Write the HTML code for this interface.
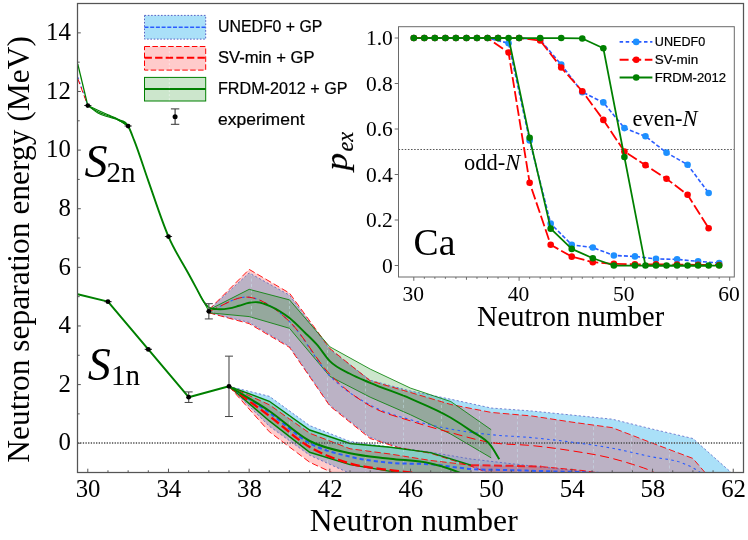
<!DOCTYPE html>
<html><head><meta charset="utf-8"><title>Neutron separation energy</title>
<style>html,body{margin:0;padding:0;background:#fff;}body{width:748px;height:540px;overflow:hidden;font-family:"Liberation Serif",serif;}svg{display:block;}</style>
</head><body>
<svg width="748" height="540" viewBox="0 0 748 540" style="will-change:transform">
<defs>
<clipPath id="cm"><rect x="77.5" y="3.5" width="666" height="469"/></clipPath>
<clipPath id="ci"><rect x="398.5" y="26.7" width="335.8" height="250.3"/></clipPath>
<clipPath id="cb"><polygon points="208.82,309.84 249.16,272.91 289.5,295.18 329.84,349.41 370.18,380.18 410.52,391.03 450.86,399.24 491.2,408.03 531.54,410.96 571.88,415.06 612.22,419.17 652.56,429.13 692.9,438.51 731.22,472.51 737.27,478.37 531.54,490.1 493.22,475.44 489.18,472.51 471.03,465.92 450.86,459.47 430.69,453.02 410.52,449.5 398.42,447.3 370.18,437.34 329.84,405.1 289.5,346.48 249.16,322.44 208.82,312.77"/><polygon points="208.82,309.84 249.16,269.39 289.5,293.13 329.84,348.53 370.18,380.77 410.52,392.49 450.86,404.51 491.2,412.42 531.54,415.94 571.88,422.1 612.22,427.67 652.56,443.2 692.9,458.44 705,472.51 713.07,484.23 531.54,490.1 491.2,475.44 487.17,472.51 471.03,466.21 450.86,459.76 430.69,453.31 410.52,449.79 398.42,447.6 370.18,438.51 329.84,405.98 289.5,347.36 249.16,323.62 208.82,312.77"/><polygon points="228.99,386.34 269.33,396.3 309.67,425.61 350.01,441.44 390.35,447.01 430.69,452.29 471.03,459.03 511.37,463.72 551.71,468.11 592.05,472.51 602.13,473.98 390.35,490.1 360.1,481.3 347.99,472.51 309.67,455.22 269.33,426.2 228.99,386.34"/><polygon points="228.99,386.34 269.33,404.8 309.67,433.23 350.01,448.77 390.35,454.04 430.69,460.49 471.03,465.18 511.37,465.77 541.62,466.65 581.97,470.46 602.13,473.39 390.35,490.1 350.01,484.23 331.86,472.51 309.67,462.25 269.33,431.77 228.99,386.34"/></clipPath>
</defs>
<rect x="0" y="0" width="748" height="540" fill="#fff"/>
<g clip-path="url(#cm)">
<polygon points="208.82,309.84 249.16,272.91 289.5,295.18 329.84,349.41 370.18,380.18 410.52,391.03 450.86,399.24 491.2,408.03 531.54,410.96 571.88,415.06 612.22,419.17 652.56,429.13 692.9,438.51 731.22,472.51 737.27,478.37 531.54,490.1 493.22,475.44 489.18,472.51 471.03,465.92 450.86,459.47 430.69,453.02 410.52,449.5 398.42,447.3 370.18,437.34 329.84,405.1 289.5,346.48 249.16,322.44 208.82,312.77" fill="rgb(130,210,245)" fill-opacity="0.68"/>
<polygon points="228.99,386.34 269.33,396.3 309.67,425.61 350.01,441.44 390.35,447.01 430.69,452.29 471.03,459.03 511.37,463.72 551.71,468.11 592.05,472.51 602.13,473.98 390.35,490.1 360.1,481.3 347.99,472.51 309.67,455.22 269.33,426.2 228.99,386.34" fill="rgb(130,210,245)" fill-opacity="0.68"/>
<polygon points="208.82,309.84 249.16,269.39 289.5,293.13 329.84,348.53 370.18,380.77 410.52,392.49 450.86,404.51 491.2,412.42 531.54,415.94 571.88,422.1 612.22,427.67 652.56,443.2 692.9,458.44 705,472.51 713.07,484.23 531.54,490.1 491.2,475.44 487.17,472.51 471.03,466.21 450.86,459.76 430.69,453.31 410.52,449.79 398.42,447.6 370.18,438.51 329.84,405.98 289.5,347.36 249.16,323.62 208.82,312.77" fill="rgb(255,0,0)" fill-opacity="0.205"/>
<polygon points="228.99,386.34 269.33,404.8 309.67,433.23 350.01,448.77 390.35,454.04 430.69,460.49 471.03,465.18 511.37,465.77 541.62,466.65 581.97,470.46 602.13,473.39 390.35,490.1 350.01,484.23 331.86,472.51 309.67,462.25 269.33,431.77 228.99,386.34" fill="rgb(255,0,0)" fill-opacity="0.205"/>
<polygon points="208.82,309.84 249.16,289.32 289.5,299.87 329.84,346.77 370.18,369.05 410.52,388.1 450.86,401.58 491.2,429.72 491.2,457.85 450.86,434.11 410.52,414.77 370.18,397.18 329.84,376.37 289.5,328.3 249.16,316.58 208.82,312.77" fill="rgb(0,128,0)" fill-opacity="0.2"/>
<polygon points="228.99,386.34 269.33,401.29 309.67,430.01 350.01,443.49 390.35,447.3 430.69,452.58 471.03,465.18 471.03,481.3 410.52,473.39 390.35,471.34 350.01,464.6 309.67,452.29 269.33,420.92 228.99,386.34" fill="rgb(0,128,0)" fill-opacity="0.2"/>
<g clip-path="url(#cb)"><path d="M213.5 3.5 V472.5 M251.5 3.5 V472.5 M289.5 3.5 V472.5 M327.5 3.5 V472.5 M365.5 3.5 V472.5 M403.5 3.5 V472.5 M441.5 3.5 V472.5 M479.5 3.5 V472.5 M517.5 3.5 V472.5 M555.5 3.5 V472.5 M593.5 3.5 V472.5 M631.5 3.5 V472.5 M669.5 3.5 V472.5" stroke="#cdeef8" stroke-opacity="0.42" stroke-width="1.1" stroke-dasharray="3 2.5" fill="none"/></g>
<path d="M208.82 309.84 L249.16 272.91 L289.5 295.18 L329.84 349.41 L370.18 380.18 L410.52 391.03 L450.86 399.24 L491.2 408.03 L531.54 410.96 L571.88 415.06 L612.22 419.17 L652.56 429.13 L692.9 438.51 L731.22 472.51 L737.27 478.37" stroke="#5560c4" stroke-width="0.9" fill="none" stroke-opacity="0.85" stroke-dasharray="2.2 2.2"/>
<path d="M208.82 312.77 L249.16 322.44 L289.5 346.48 L329.84 405.1 L370.18 437.34 L398.42 447.3 L410.52 449.5 L430.69 453.02 L450.86 459.47 L471.03 465.92 L489.18 472.51 L493.22 475.44 L531.54 490.1" stroke="#5560c4" stroke-width="0.9" fill="none" stroke-opacity="0.85" stroke-dasharray="2.2 2.2"/>
<path d="M228.99 386.34 L269.33 396.3 L309.67 425.61 L350.01 441.44 L390.35 447.01 L430.69 452.29 L471.03 459.03 L511.37 463.72 L551.71 468.11 L592.05 472.51 L602.13 473.98" stroke="#5560c4" stroke-width="0.9" fill="none" stroke-opacity="0.85" stroke-dasharray="2.2 2.2"/>
<path d="M228.99 386.34 L269.33 426.2 L309.67 455.22 L347.99 472.51 L360.1 481.3 L390.35 490.1" stroke="#5560c4" stroke-width="0.9" fill="none" stroke-opacity="0.85" stroke-dasharray="2.2 2.2"/>
<path d="M208.82 309.84 L249.16 269.39 L289.5 293.13 L329.84 348.53 L370.18 380.77 L410.52 392.49 L450.86 404.51 L491.2 412.42 L531.54 415.94 L571.88 422.1 L612.22 427.67 L652.56 443.2 L692.9 458.44 L705 472.51 L713.07 484.23" stroke="#ff0000" stroke-width="0.9" fill="none" stroke-dasharray="6.5 3"/>
<path d="M208.82 312.77 L249.16 323.62 L289.5 347.36 L329.84 405.98 L370.18 438.51 L398.42 447.6 L410.52 449.79 L430.69 453.31 L450.86 459.76 L471.03 466.21 L487.17 472.51 L491.2 475.44 L531.54 490.1" stroke="#ff0000" stroke-width="0.9" fill="none" stroke-dasharray="6.5 3"/>
<path d="M228.99 386.34 L269.33 404.8 L309.67 433.23 L350.01 448.77 L390.35 454.04 L430.69 460.49 L471.03 465.18" stroke="#ff0000" stroke-width="0.9" fill="none" stroke-dasharray="6.5 3"/>
<path d="M228.99 386.34 L269.33 431.77 L309.67 462.25 L331.86 472.51 L350.01 484.23 L390.35 490.1" stroke="#ff0000" stroke-width="0.9" fill="none" stroke-dasharray="6.5 3"/>
<path d="M208.82 309.84 L249.16 289.32 L289.5 299.87 L329.84 346.77 L370.18 369.05 L410.52 388.1 L450.86 401.58 L491.2 429.72" stroke="#008000" stroke-width="0.9" fill="none" stroke-opacity="0.9"/>
<path d="M208.82 312.77 L249.16 316.58 L289.5 328.3 L329.84 376.37 L370.18 397.18 L410.52 414.77 L450.86 434.11 L491.2 457.85" stroke="#008000" stroke-width="0.9" fill="none" stroke-opacity="0.9"/>
<path d="M228.99 386.34 L269.33 401.29 L309.67 430.01 L350.01 443.49 L390.35 447.3 L430.69 452.58 L471.03 465.18" stroke="#008000" stroke-width="1.4" fill="none"/>
<path d="M228.99 386.34 L269.33 420.92 L309.67 452.29 L350.01 464.6 L390.35 471.34 L410.52 473.39 L471.03 481.3" stroke="#008000" stroke-width="1.4" fill="none"/>
<line x1="77.5" y1="443.1" x2="743.5" y2="443.1" stroke="#4a4a4a" stroke-width="1.5" stroke-dasharray="1.3 1.35"/>
<path d="M208.82 311.31 C222.27 306.62 235.71 295.53 249.16 297.24 C262.61 298.95 276.05 308.47 289.5 321.56 C302.95 334.66 316.39 361.86 329.84 375.79 C343.29 389.71 356.73 397.77 370.18 405.1 C383.63 412.42 397.07 415.75 410.52 419.75 C423.97 423.76 437.41 426.64 450.86 429.13 C464.31 431.62 477.75 433.28 491.2 434.7 C504.65 436.12 518.09 436.39 531.54 437.63 C544.99 438.88 558.43 440.42 571.88 442.17 C585.33 443.93 598.77 445.72 612.22 448.18 C625.67 450.65 639.11 454.21 652.56 456.98 C661.97 458.91 671.39 459.12 680.8 462.54 C684.83 464.01 688.87 465.53 692.9 467.82 C695.59 469.34 698.28 470.82 700.97 473.1 C702.31 474.24 703.66 475.64 705 476.91" stroke="#2a5cff" stroke-width="1.1" fill="none" stroke-dasharray="2.6 3.4"/>
<path d="M208.82 311.31 C222.27 306.62 235.71 295.53 249.16 297.24 C262.61 298.95 276.05 308.72 289.5 321.56 C302.95 334.41 316.39 360.25 329.84 374.32 C343.29 388.39 356.73 398.21 370.18 405.98 C383.63 413.74 397.07 416.48 410.52 420.92 C423.97 425.37 437.41 429.03 450.86 432.65 C464.31 436.26 477.75 440.46 491.2 442.61 C504.65 444.76 518.09 444.18 531.54 445.54 C544.99 446.91 558.43 448.67 571.88 450.82 C585.33 452.97 598.77 454.99 612.22 458.44 C618.94 460.17 625.67 462.1 632.39 464.3 C639.11 466.5 645.84 468.31 652.56 471.63 C654.58 472.63 656.59 473.78 658.61 474.85" stroke="#ff0000" stroke-width="1" fill="none" stroke-dasharray="9 4.5"/>
<path d="M228.99 386.34 C242.44 395.13 255.88 403.24 269.33 412.72 C282.78 422.19 296.22 435.87 309.67 443.2 C323.12 450.53 336.56 453.41 350.01 456.68 C363.46 459.96 376.9 461.57 390.35 462.84 C403.8 464.11 417.24 463.28 430.69 464.3 C444.14 465.33 457.58 468.02 471.03 468.99 C484.48 469.97 497.92 469.77 511.37 470.17 C524.82 470.56 538.26 470.95 551.71 471.34 C565.16 471.73 578.6 471.81 592.05 472.51 C595.41 472.69 598.77 472.9 602.13 473.1" stroke="#2a5cff" stroke-width="2.0" fill="none" stroke-dasharray="4.2 3"/>
<path d="M471.03 465.18 L511.37 465.77 L541.62 466.65" stroke="#ff0000" stroke-width="2.0" fill="none" stroke-dasharray="8 3.5" stroke-opacity="0.8"/>
<path d="M541.62 466.65 L581.97 470.46 L602.13 473.39" stroke="#ff0000" stroke-width="0.9" fill="none" stroke-dasharray="6.5 3"/>
<path d="M228.99 386.34 C242.44 396.21 255.88 405.83 269.33 415.94 C282.78 426.05 296.22 439.1 309.67 447.01 C323.12 454.92 336.56 459.56 350.01 463.42 C363.46 467.28 376.9 468.37 390.35 470.17 C397.07 471.06 403.8 471.6 410.52 472.51 C413.88 472.97 417.24 473.49 420.61 473.98" stroke="#ff0000" stroke-width="2.3" fill="none" stroke-dasharray="9.5 3.7"/>
<path d="M118.06 119.62 C121.42 121.77 124.78 120.27 128.14 126.07 C130.16 129.54 132.17 135.34 134.19 140.43 C138.9 152.29 143.6 167.59 148.31 180.88 C155.03 199.85 161.76 221.05 168.48 236.56 C175.2 252.07 181.93 261.48 188.65 273.93 C191.34 278.92 194.03 283.98 196.72 288.88 C199.14 293.3 201.56 298.52 203.98 301.93 C205.59 304.2 207.21 306.21 208.82 307.49 C211.51 309.63 214.2 308.85 216.89 309.11 C220.92 309.49 224.96 309.06 228.99 308.37 C232.35 307.8 235.71 306.66 239.07 305.74 C242.44 304.81 245.8 303.38 249.16 302.81 C251.85 302.35 254.54 302.03 257.23 302.22 C261.46 302.52 265.7 304.23 269.94 306.03 C276.46 308.79 282.98 312.84 289.5 318.05 C294.68 322.18 299.85 327.64 305.03 332.7 C308.93 336.51 312.83 340.02 316.73 344.43 C321.1 349.37 325.47 356.68 329.84 361.13 C336.56 367.98 343.29 370.12 350.01 373.74 C356.73 377.35 363.46 379.92 370.18 382.82 C383.63 388.62 397.07 392.84 410.52 398.65 C423.97 404.46 437.41 409.72 450.86 417.7 C457.58 421.69 464.31 426.15 471.03 430.89 C477.75 435.63 484.48 436.83 491.2 446.13 C493.89 449.85 496.58 454.92 499.27 459.32" stroke="#008000" stroke-width="1.9" fill="none"/>
<path d="M87.8 105.55 C91.16 107.6 94.52 109.99 97.88 111.7 C101.25 113.41 104.61 114.49 107.97 115.81 C111.33 117.13 114.69 117.91 118.06 119.62 C121.42 121.33 124.78 123.92 128.14 126.07" stroke="#008000" stroke-width="1.2" fill="none"/>
<path d="M228.99 386.34 C242.44 394.55 255.88 401.85 269.33 410.96 C282.78 420.07 296.22 433.97 309.67 441 C323.12 448.04 336.56 450.21 350.01 453.17 C363.46 456.12 376.9 457.02 390.35 458.73 C403.8 460.44 417.24 460.24 430.69 463.42 C440.1 465.66 449.52 468.22 458.93 472.51 C460.95 473.43 462.96 474.46 464.98 475.44" stroke="#008000" stroke-width="2.0" fill="none"/>
<path d="M77.72 76.82 L87.8 105.55" stroke="#2a5cff" stroke-width="1" fill="none" stroke-dasharray="2.5 2.5"/>
<path d="M77.72 78.58 L87.8 105.55" stroke="#ff0000" stroke-width="1" fill="none" stroke-dasharray="6 3"/>
<path d="M77.72 63.93 L87.8 105.55" stroke="#008000" stroke-width="1.3" fill="none"/>
<path d="M87.8 105.55 C91.16 108.04 94.52 111.14 97.88 113.02 C101.25 114.9 104.61 115.66 107.97 116.83 C111.33 118.01 114.69 118.52 118.06 120.06 C121.42 121.6 124.78 124.06 128.14 126.07" stroke="#008000" stroke-width="1.1" fill="none"/>
<path d="M87.8 105.55 C91.16 107.11 94.52 108.7 97.88 110.24 C101.25 111.78 104.61 113.29 107.97 114.78 C111.33 116.27 114.69 117.3 118.06 119.18 C121.42 121.06 124.78 123.77 128.14 126.07" stroke="#008000" stroke-width="1.1" fill="none"/>
<path d="M197.73 290.79 L208.82 311.31" stroke="#008000" stroke-width="1" fill="none"/>
<path d="M77.72 294.31 L107.97 301.63 L148.31 349.41 L188.65 397.18 L228.99 386.34" stroke="#008000" stroke-width="2.0" fill="none" stroke-linejoin="round"/>
<line x1="84.2" y1="105.55" x2="91.4" y2="105.55" stroke="#333" stroke-width="1.1"/>
<circle cx="87.8" cy="105.55" r="2.4" fill="#000"/>
<line x1="124.54" y1="126.07" x2="131.74" y2="126.07" stroke="#333" stroke-width="1.1"/>
<circle cx="128.14" cy="126.07" r="2.4" fill="#000"/>
<line x1="164.88" y1="236.56" x2="172.08" y2="236.56" stroke="#333" stroke-width="1.1"/>
<circle cx="168.48" cy="236.56" r="2.4" fill="#000"/>
<line x1="208.82" y1="303.68" x2="208.82" y2="318.93" stroke="#666" stroke-width="1.3"/>
<line x1="204.82" y1="303.68" x2="212.82" y2="303.68" stroke="#444" stroke-width="1"/>
<line x1="204.82" y1="318.93" x2="212.82" y2="318.93" stroke="#444" stroke-width="1"/>
<circle cx="208.82" cy="311.31" r="2.4" fill="#000"/>
<line x1="104.37" y1="301.63" x2="111.57" y2="301.63" stroke="#333" stroke-width="1.1"/>
<circle cx="107.97" cy="301.63" r="2.4" fill="#000"/>
<line x1="144.71" y1="349.41" x2="151.91" y2="349.41" stroke="#333" stroke-width="1.1"/>
<circle cx="148.31" cy="349.41" r="2.4" fill="#000"/>
<line x1="188.65" y1="391.91" x2="188.65" y2="402.46" stroke="#666" stroke-width="1.3"/>
<line x1="184.65" y1="391.91" x2="192.65" y2="391.91" stroke="#444" stroke-width="1"/>
<line x1="184.65" y1="402.46" x2="192.65" y2="402.46" stroke="#444" stroke-width="1"/>
<circle cx="188.65" cy="397.18" r="2.4" fill="#000"/>
<line x1="228.99" y1="356.15" x2="228.99" y2="416.53" stroke="#666" stroke-width="1.3"/>
<line x1="224.99" y1="356.15" x2="232.99" y2="356.15" stroke="#444" stroke-width="1"/>
<line x1="224.99" y1="416.53" x2="232.99" y2="416.53" stroke="#444" stroke-width="1"/>
<circle cx="228.99" cy="386.34" r="2.4" fill="#000"/>
</g>
<rect x="77.5" y="3.5" width="666" height="469" fill="none" stroke="#555555" stroke-width="1.25"/>
<path d="M87.8 472.5 v-3.8 M107.97 472.5 v-2.2 M128.14 472.5 v-2.2 M148.31 472.5 v-2.2 M168.48 472.5 v-3.8 M188.65 472.5 v-2.2 M208.82 472.5 v-2.2 M228.99 472.5 v-2.2 M249.16 472.5 v-3.8 M269.33 472.5 v-2.2 M289.5 472.5 v-2.2 M309.67 472.5 v-2.2 M329.84 472.5 v-3.8 M350.01 472.5 v-2.2 M370.18 472.5 v-2.2 M390.35 472.5 v-2.2 M410.52 472.5 v-3.8 M430.69 472.5 v-2.2 M450.86 472.5 v-2.2 M471.03 472.5 v-2.2 M491.2 472.5 v-3.8 M511.37 472.5 v-2.2 M531.54 472.5 v-2.2 M551.71 472.5 v-2.2 M571.88 472.5 v-3.8 M592.05 472.5 v-2.2 M612.22 472.5 v-2.2 M632.39 472.5 v-2.2 M652.56 472.5 v-3.8 M672.73 472.5 v-2.2 M692.9 472.5 v-2.2 M713.07 472.5 v-2.2 M733.24 472.5 v-3.8 M77.5 472.51 h2.2 M77.5 443.2 h3.3 M77.5 413.89 h2.2 M77.5 384.58 h3.3 M77.5 355.27 h2.2 M77.5 325.96 h3.3 M77.5 296.65 h2.2 M77.5 267.34 h3.3 M77.5 238.03 h2.2 M77.5 208.72 h3.3 M77.5 179.41 h2.2 M77.5 150.1 h3.3 M77.5 120.79 h2.2 M77.5 91.48 h3.3 M77.5 62.17 h2.2 M77.5 32.86 h3.3" stroke="#555555" stroke-width="1" fill="none"/>
<g font-family="'Liberation Serif', serif" font-size="24.8" fill="#000">
<text x="88.1" y="497.4" text-anchor="middle">30</text>
<text x="168.78" y="497.4" text-anchor="middle">34</text>
<text x="249.46" y="497.4" text-anchor="middle">38</text>
<text x="330.14" y="497.4" text-anchor="middle">42</text>
<text x="410.82" y="497.4" text-anchor="middle">46</text>
<text x="491.5" y="497.4" text-anchor="middle">50</text>
<text x="572.18" y="497.4" text-anchor="middle">54</text>
<text x="652.86" y="497.4" text-anchor="middle">58</text>
<text x="733.54" y="497.4" text-anchor="middle">62</text>
<text x="70.8" y="450.4" text-anchor="end">0</text>
<text x="70.8" y="391.78" text-anchor="end">2</text>
<text x="70.8" y="333.16" text-anchor="end">4</text>
<text x="70.8" y="274.54" text-anchor="end">6</text>
<text x="70.8" y="215.92" text-anchor="end">8</text>
<text x="70.8" y="157.3" text-anchor="end">10</text>
<text x="70.8" y="98.68" text-anchor="end">12</text>
<text x="70.8" y="40.06" text-anchor="end">14</text>
</g>
<text x="413.7" y="531.2" text-anchor="middle" font-family="'Liberation Serif', serif" font-size="31.6" fill="#000">Neutron number</text>
<text transform="translate(29.0 249.4) rotate(-90)" text-anchor="middle" font-family="'Liberation Serif', serif" font-size="31.4" fill="#000" textLength="426.6" lengthAdjust="spacingAndGlyphs">Neutron separation energy (MeV)</text>
<text x="84.4" y="177.0" font-family="'Liberation Serif', serif" font-style="italic" font-size="46" fill="#000">S</text>
<text x="106.4" y="181.8" font-family="'Liberation Serif', serif" font-size="29" fill="#000">2n</text>
<text x="87.7" y="379.9" font-family="'Liberation Serif', serif" font-style="italic" font-size="46" fill="#000">S</text>
<text x="110.9" y="384.8" font-family="'Liberation Serif', serif" font-size="29" fill="#000">1n</text>
<rect x="144.5" y="15.4" width="61.2" height="23.7" fill="rgb(130,210,245)" fill-opacity="0.68" stroke="#5560c4" stroke-width="1" stroke-dasharray="1.6 1.7"/>
<line x1="144.5" y1="27.3" x2="205.7" y2="27.3" stroke="#2a5cff" stroke-width="1.5" stroke-dasharray="4 1.7"/>
<rect x="144.5" y="46.5" width="61.2" height="23.6" fill="rgb(255,0,0)" fill-opacity="0.205" stroke="#ff0000" stroke-width="1" stroke-dasharray="5.5 2.4"/>
<line x1="144.5" y1="57.8" x2="205.7" y2="57.8" stroke="#ff0000" stroke-width="2" stroke-dasharray="7.4 3.2"/>
<rect x="144.5" y="77.4" width="61.2" height="23.6" fill="rgb(0,128,0)" fill-opacity="0.2" stroke="#008000" stroke-width="1"/>
<line x1="144.5" y1="89.0" x2="205.7" y2="89.0" stroke="#008000" stroke-width="2" />
<path d="M169.3 47.2 V69.6 M169.3 78.2 V100.4" stroke="#fff" stroke-opacity="0.45" stroke-width="1" stroke-dasharray="2 2" fill="none"/>
<line x1="175.1" y1="108.9" x2="175.1" y2="124.3" stroke="#444" stroke-width="1.2"/>
<line x1="170.9" y1="108.9" x2="179.3" y2="108.9" stroke="#333" stroke-width="1"/>
<line x1="170.9" y1="124.3" x2="179.3" y2="124.3" stroke="#333" stroke-width="1"/>
<circle cx="175.1" cy="116.7" r="2.5" fill="#000"/>
<g font-family="'Liberation Sans', sans-serif" font-size="15.6" fill="#000" stroke="#000" stroke-width="0.22">
<text x="218" y="32.3" textLength="104.4" lengthAdjust="spacingAndGlyphs">UNEDF0 + GP</text>
<text x="218" y="63.2" textLength="96.5" lengthAdjust="spacingAndGlyphs">SV-min + GP</text>
<text x="218" y="94.1" textLength="129.5" lengthAdjust="spacingAndGlyphs">FRDM-2012 + GP</text>
<text x="218" y="125" textLength="86.5" lengthAdjust="spacingAndGlyphs">experiment</text>
</g>
<rect x="398.5" y="26.7" width="335.8" height="250.3" fill="#fff"/>
<g clip-path="url(#ci)">
<line x1="398.5" y1="149.5" x2="734.3" y2="149.5" stroke="#555" stroke-width="1.2" stroke-dasharray="1.55 1.58"/>
</g>
<path d="M413.8 38 L434.86 38 L455.92 38 L476.98 38 L498.04 38 L519.1 38 L540.16 39.82 L561.22 64.62 L582.28 92.15 L603.34 102.38 L624.4 128.09 L645.46 136.28 L666.52 152.66 L687.58 164.72 L708.64 192.93" stroke="#2a5cff" stroke-width="1.6" fill="none" stroke-dasharray="4 2.1" stroke-linejoin="round"/>
<circle cx="413.8" cy="38" r="3.3" fill="#1e90ff"/>
<circle cx="434.86" cy="38" r="3.3" fill="#1e90ff"/>
<circle cx="455.92" cy="38" r="3.3" fill="#1e90ff"/>
<circle cx="476.98" cy="38" r="3.3" fill="#1e90ff"/>
<circle cx="498.04" cy="38" r="3.3" fill="#1e90ff"/>
<circle cx="519.1" cy="38" r="3.3" fill="#1e90ff"/>
<circle cx="540.16" cy="39.82" r="3.3" fill="#1e90ff"/>
<circle cx="561.22" cy="64.62" r="3.3" fill="#1e90ff"/>
<circle cx="582.28" cy="92.15" r="3.3" fill="#1e90ff"/>
<circle cx="603.34" cy="102.38" r="3.3" fill="#1e90ff"/>
<circle cx="624.4" cy="128.09" r="3.3" fill="#1e90ff"/>
<circle cx="645.46" cy="136.28" r="3.3" fill="#1e90ff"/>
<circle cx="666.52" cy="152.66" r="3.3" fill="#1e90ff"/>
<circle cx="687.58" cy="164.72" r="3.3" fill="#1e90ff"/>
<circle cx="708.64" cy="192.93" r="3.3" fill="#1e90ff"/>
<path d="M424.33 38 L445.39 38 L466.45 38 L487.51 38 L508.57 43.23 L529.63 140.38 L550.69 223.64 L571.75 244.8 L592.81 247.53 L613.87 255.49 L634.93 256.4 L655.99 258.9 L677.05 259.36 L698.11 261.4 L719.17 263" stroke="#2a5cff" stroke-width="1.6" fill="none" stroke-dasharray="4 2.1" stroke-linejoin="round"/>
<circle cx="424.33" cy="38" r="3.3" fill="#1e90ff"/>
<circle cx="445.39" cy="38" r="3.3" fill="#1e90ff"/>
<circle cx="466.45" cy="38" r="3.3" fill="#1e90ff"/>
<circle cx="487.51" cy="38" r="3.3" fill="#1e90ff"/>
<circle cx="508.57" cy="43.23" r="3.3" fill="#1e90ff"/>
<circle cx="529.63" cy="140.38" r="3.3" fill="#1e90ff"/>
<circle cx="550.69" cy="223.64" r="3.3" fill="#1e90ff"/>
<circle cx="571.75" cy="244.8" r="3.3" fill="#1e90ff"/>
<circle cx="592.81" cy="247.53" r="3.3" fill="#1e90ff"/>
<circle cx="613.87" cy="255.49" r="3.3" fill="#1e90ff"/>
<circle cx="634.93" cy="256.4" r="3.3" fill="#1e90ff"/>
<circle cx="655.99" cy="258.9" r="3.3" fill="#1e90ff"/>
<circle cx="677.05" cy="259.36" r="3.3" fill="#1e90ff"/>
<circle cx="698.11" cy="261.4" r="3.3" fill="#1e90ff"/>
<circle cx="719.17" cy="263" r="3.3" fill="#1e90ff"/>
<path d="M413.8 38 L434.86 38 L455.92 38 L476.98 38 L498.04 38 L519.1 38 L540.16 40.5 L561.22 67.57 L582.28 91.23 L603.34 119.9 L624.4 151.52 L645.46 165.17 L666.52 178.82 L687.58 194.75 L708.64 228.19" stroke="#ff0000" stroke-width="1.8" fill="none" stroke-dasharray="11 3.2" stroke-linejoin="round"/>
<circle cx="413.8" cy="38" r="3.3" fill="#ff0000"/>
<circle cx="434.86" cy="38" r="3.3" fill="#ff0000"/>
<circle cx="455.92" cy="38" r="3.3" fill="#ff0000"/>
<circle cx="476.98" cy="38" r="3.3" fill="#ff0000"/>
<circle cx="498.04" cy="38" r="3.3" fill="#ff0000"/>
<circle cx="519.1" cy="38" r="3.3" fill="#ff0000"/>
<circle cx="540.16" cy="40.5" r="3.3" fill="#ff0000"/>
<circle cx="561.22" cy="67.57" r="3.3" fill="#ff0000"/>
<circle cx="582.28" cy="91.23" r="3.3" fill="#ff0000"/>
<circle cx="603.34" cy="119.9" r="3.3" fill="#ff0000"/>
<circle cx="624.4" cy="151.52" r="3.3" fill="#ff0000"/>
<circle cx="645.46" cy="165.17" r="3.3" fill="#ff0000"/>
<circle cx="666.52" cy="178.82" r="3.3" fill="#ff0000"/>
<circle cx="687.58" cy="194.75" r="3.3" fill="#ff0000"/>
<circle cx="708.64" cy="228.19" r="3.3" fill="#ff0000"/>
<path d="M424.33 38 L445.39 38 L466.45 38 L487.51 38 L508.57 52.56 L529.63 182.69 L550.69 244.8 L571.75 256.63 L592.81 262.2 L613.87 263.91 L634.93 264.36 L655.99 264.36 L677.05 264.59 L698.11 264.82 L719.17 265.05" stroke="#ff0000" stroke-width="1.8" fill="none" stroke-dasharray="11 3.2" stroke-linejoin="round"/>
<circle cx="424.33" cy="38" r="3.3" fill="#ff0000"/>
<circle cx="445.39" cy="38" r="3.3" fill="#ff0000"/>
<circle cx="466.45" cy="38" r="3.3" fill="#ff0000"/>
<circle cx="487.51" cy="38" r="3.3" fill="#ff0000"/>
<circle cx="508.57" cy="52.56" r="3.3" fill="#ff0000"/>
<circle cx="529.63" cy="182.69" r="3.3" fill="#ff0000"/>
<circle cx="550.69" cy="244.8" r="3.3" fill="#ff0000"/>
<circle cx="571.75" cy="256.63" r="3.3" fill="#ff0000"/>
<circle cx="592.81" cy="262.2" r="3.3" fill="#ff0000"/>
<circle cx="613.87" cy="263.91" r="3.3" fill="#ff0000"/>
<circle cx="634.93" cy="264.36" r="3.3" fill="#ff0000"/>
<circle cx="655.99" cy="264.36" r="3.3" fill="#ff0000"/>
<circle cx="677.05" cy="264.59" r="3.3" fill="#ff0000"/>
<circle cx="698.11" cy="264.82" r="3.3" fill="#ff0000"/>
<circle cx="719.17" cy="265.05" r="3.3" fill="#ff0000"/>
<path d="M413.8 38 L434.86 38 L455.92 38 L476.98 38 L498.04 38 L519.1 38 L540.16 38 L561.22 38 L582.28 38.46 L603.34 48.24 L624.4 156.98 L645.46 265.5 L666.52 265.5 L687.58 265.5 L708.64 265.5" stroke="#008000" stroke-width="1.75" fill="none" stroke-linejoin="round"/>
<circle cx="413.8" cy="38" r="3.3" fill="#008000"/>
<circle cx="434.86" cy="38" r="3.3" fill="#008000"/>
<circle cx="455.92" cy="38" r="3.3" fill="#008000"/>
<circle cx="476.98" cy="38" r="3.3" fill="#008000"/>
<circle cx="498.04" cy="38" r="3.3" fill="#008000"/>
<circle cx="519.1" cy="38" r="3.3" fill="#008000"/>
<circle cx="540.16" cy="38" r="3.3" fill="#008000"/>
<circle cx="561.22" cy="38" r="3.3" fill="#008000"/>
<circle cx="582.28" cy="38.46" r="3.3" fill="#008000"/>
<circle cx="603.34" cy="48.24" r="3.3" fill="#008000"/>
<circle cx="624.4" cy="156.98" r="3.3" fill="#008000"/>
<circle cx="645.46" cy="265.5" r="3.3" fill="#008000"/>
<circle cx="666.52" cy="265.5" r="3.3" fill="#008000"/>
<circle cx="687.58" cy="265.5" r="3.3" fill="#008000"/>
<circle cx="708.64" cy="265.5" r="3.3" fill="#008000"/>
<path d="M424.33 38 L445.39 38 L466.45 38 L487.51 38 L508.57 38 L529.63 137.87 L550.69 228.64 L571.75 248.89 L592.81 258.22 L613.87 265.5 L634.93 265.5 L655.99 265.5 L677.05 265.5 L698.11 265.5 L719.17 265.5" stroke="#008000" stroke-width="1.75" fill="none" stroke-linejoin="round"/>
<circle cx="424.33" cy="38" r="3.3" fill="#008000"/>
<circle cx="445.39" cy="38" r="3.3" fill="#008000"/>
<circle cx="466.45" cy="38" r="3.3" fill="#008000"/>
<circle cx="487.51" cy="38" r="3.3" fill="#008000"/>
<circle cx="508.57" cy="38" r="3.3" fill="#008000"/>
<circle cx="529.63" cy="137.87" r="3.3" fill="#008000"/>
<circle cx="550.69" cy="228.64" r="3.3" fill="#008000"/>
<circle cx="571.75" cy="248.89" r="3.3" fill="#008000"/>
<circle cx="592.81" cy="258.22" r="3.3" fill="#008000"/>
<circle cx="613.87" cy="265.5" r="3.3" fill="#008000"/>
<circle cx="634.93" cy="265.5" r="3.3" fill="#008000"/>
<circle cx="655.99" cy="265.5" r="3.3" fill="#008000"/>
<circle cx="677.05" cy="265.5" r="3.3" fill="#008000"/>
<circle cx="698.11" cy="265.5" r="3.3" fill="#008000"/>
<circle cx="719.17" cy="265.5" r="3.3" fill="#008000"/>
<rect x="398.5" y="26.7" width="335.8" height="250.3" fill="none" stroke="#6a6a6a" stroke-width="1"/>
<path d="M413.8 277 v3.8 M424.33 277 v1.8 M434.86 277 v1.8 M445.39 277 v1.8 M455.92 277 v1.8 M466.45 277 v2.8 M476.98 277 v1.8 M487.51 277 v1.8 M498.04 277 v1.8 M508.57 277 v1.8 M519.1 277 v3.8 M529.63 277 v1.8 M540.16 277 v1.8 M550.69 277 v1.8 M561.22 277 v1.8 M571.75 277 v2.8 M582.28 277 v1.8 M592.81 277 v1.8 M603.34 277 v1.8 M613.87 277 v1.8 M624.4 277 v3.8 M634.93 277 v1.8 M645.46 277 v1.8 M655.99 277 v1.8 M666.52 277 v1.8 M677.05 277 v2.8 M687.58 277 v1.8 M698.11 277 v1.8 M708.64 277 v1.8 M719.17 277 v1.8 M729.7 277 v3.8 M398.5 265.5 h-3.8 M398.5 220 h-3.8 M398.5 174.5 h-3.8 M398.5 129 h-3.8 M398.5 83.5 h-3.8 M398.5 38 h-3.8" stroke="#6a6a6a" stroke-width="1" fill="none"/>
<g font-family="'Liberation Serif', serif" font-size="21.5" fill="#000">
<text x="413.2" y="301.2" text-anchor="middle">30</text>
<text x="518.5" y="301.2" text-anchor="middle">40</text>
<text x="623.8" y="301.2" text-anchor="middle">50</text>
<text x="729.1" y="301.2" text-anchor="middle">60</text>
<text x="392.8" y="272.8" text-anchor="end">0</text>
<text x="392.8" y="227.3" text-anchor="end">0.2</text>
<text x="392.8" y="181.8" text-anchor="end">0.4</text>
<text x="392.8" y="136.3" text-anchor="end">0.6</text>
<text x="392.8" y="90.8" text-anchor="end">0.8</text>
<text x="392.8" y="45.3" text-anchor="end">1.0</text>
</g>
<text x="570.6" y="325.9" text-anchor="middle" font-family="'Liberation Serif', serif" font-size="28.45" fill="#000">Neutron number</text>
<text x="413.6" y="254.9" font-family="'Liberation Serif', serif" font-size="37.6" fill="#000">Ca</text>
<text x="632.6" y="126.2" font-family="'Liberation Serif', serif" font-size="22.5" fill="#000">even-<tspan font-style="italic">N</tspan></text>
<text x="464.0" y="169.5" font-family="'Liberation Serif', serif" font-size="22.5" fill="#000">odd-<tspan font-style="italic">N</tspan></text>
<g transform="translate(347.2 170.6) rotate(-90)" font-family="'Liberation Serif', serif" font-style="italic" fill="#000" stroke="#000" stroke-width="0.2">
<text x="0" y="0" font-size="31" textLength="17.6" lengthAdjust="spacingAndGlyphs">p</text><text x="19.0" y="5.8" font-size="22.5" textLength="19.6" lengthAdjust="spacingAndGlyphs">ex</text>
</g>
<line x1="619.6" y1="41.9" x2="652.4" y2="41.9" stroke="#2a5cff" stroke-width="1.8" stroke-dasharray="3.5 2.6"/>
<circle cx="636.2" cy="41.9" r="3.3" fill="#1e90ff"/>
<line x1="619.6" y1="59.8" x2="652.4" y2="59.8" stroke="#ff0000" stroke-width="2.0" stroke-dasharray="9 3.6"/>
<circle cx="636.2" cy="59.8" r="3.3" fill="#ff0000"/>
<line x1="619.6" y1="77.5" x2="652.4" y2="77.5" stroke="#008000" stroke-width="2.0"/>
<circle cx="636.2" cy="77.5" r="3.3" fill="#008000"/>
<g font-family="'Liberation Sans', sans-serif" font-size="12.8" fill="#000" stroke="#000" stroke-width="0.2">
<text x="654.8" y="46.3" textLength="50.4" lengthAdjust="spacingAndGlyphs">UNEDF0</text>
<text x="654.8" y="64.2" textLength="43.4" lengthAdjust="spacingAndGlyphs">SV-min</text>
<text x="654.8" y="81.9" textLength="71.3" lengthAdjust="spacingAndGlyphs">FRDM-2012</text>
</g>
</svg>
</body></html>
